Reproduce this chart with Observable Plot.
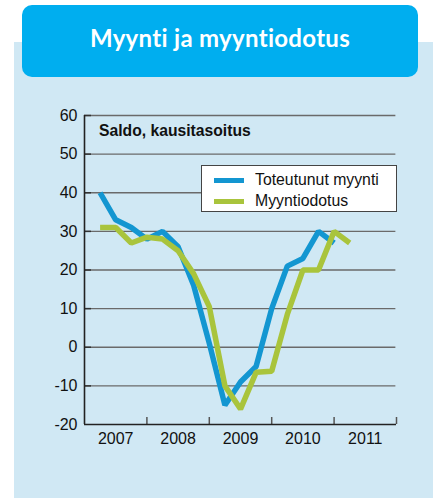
<!DOCTYPE html>
<html>
<head>
<meta charset="utf-8">
<script src="https://cdn.jsdelivr.net/npm/d3@7"></script>
<script src="https://cdn.jsdelivr.net/npm/@observablehq/plot@0.6"></script>
<style>
  html, body { margin: 0; padding: 0; background: #ffffff; }
  #wrap { position: relative; width: 433px; height: 498px; overflow: hidden; font-family: "Liberation Sans", Arial, sans-serif; }
  #panel { position: absolute; left: 14px; top: 42px; width: 419px; height: 456px; background: #d0e8f4; }
  #titlebox { position: absolute; left: 22px; top: 5px; width: 396px; height: 72px; background: #00aeef; border-radius: 10px;
    color: #fff; font-family: Lato, "Open Sans", sans-serif; font-weight: 700; font-size: 24px; text-align: center; line-height: 24px; }
  #titlebox span { position: absolute; left: 0; right: 0; top: 21px; letter-spacing: 0.3px; }
  #chart { position: absolute; left: 0; top: 0; }
  #subtitle { position: absolute; left: 99px; top: 122px; font-weight: bold; font-size: 15.7px; color: #111; }
  #legend { position: absolute; left: 201px; top: 165px; width: 194px; height: 45px; background: #fff; border: 1.5px solid #444; box-sizing: content-box; }
  .li { position: absolute; left: 0; height: 20px; font-size: 15.8px; color: #111; }
  .li i { position: absolute; left: 12px; top: 8px; width: 30px; height: 5px; }
  .li b { position: absolute; left: 53px; top: 1px; font-weight: normal; white-space: nowrap; }
</style>
</head>
<body>
<div id="wrap">
  <div id="panel"></div>
  <div id="titlebox"><span id="title"></span></div>
  <div id="chart"></div>
  <div id="subtitle"></div>
  <div id="legend"></div>
</div>
<script>
// ---- data ----
const titleText = "Myynti ja myyntiodotus";
const subtitleText = "Saldo, kausitasoitus";
const seriesNames = ["Toteutunut myynti", "Myyntiodotus"];
const seriesColors = ["#1396d1", "#a9c43c"];
const firstQuarterYear = 2007;            // first observation: 2007 Q1 (plotted at quarter end)
const toteutunutMyynti = [40, 33, 31, 28, 30, 26, 16, 1, -15, -9, -5, 10, 21, 23, 30, 27];
const myyntiodotus = [31, 31, 27, 28.5, 28, 25, 19, 10.5, -10, -16, -6.5, -6.2, 8.5, 20, 20, 30, 27];
const yTicks = [-20, -10, 0, 10, 20, 30, 40, 50, 60];
const yearLabels = ["2007", "2008", "2009", "2010", "2011"];

// ---- build table ----
const rows = [];
[toteutunutMyynti, myyntiodotus].forEach((vals, s) => {
  vals.forEach((v, i) => rows.push({ series: seriesNames[s], t: firstQuarterYear + (i + 1) / 4, value: v }));
});
const years = yearLabels.map(Number);
const xDomain = [years[0], years[years.length - 1] + 1];
const yDomain = [yTicks[0], yTicks[yTicks.length - 1]];
const yearBounds = years.map(y => y + 1);
const yearMids = years.map(y => y + 0.5);

const W = 433, H = 498;
const mL = 84, mR = 37, mT = 115, mB = 74;
const pxPerYear = (W - mL - mR) / (xDomain[1] - xDomain[0]);
const pxPerUnit = (H - mT - mB) / (yDomain[1] - yDomain[0]);
const tickLenX = 7 / pxPerYear, tickLenY = 7 / pxPerUnit;

const chart = Plot.plot({
  width: W, height: H,
  marginLeft: mL, marginRight: mR, marginTop: mT, marginBottom: mB,
  style: { background: "transparent", fontFamily: "Liberation Sans, Arial, sans-serif", fontSize: "16px", color: "#111" },
  x: { domain: xDomain },
  y: { domain: yDomain },
  marks: [
    // grid
    Plot.ruleY(yTicks.slice(1), { x1: xDomain[0], x2: xDomain[1] - 0.01, stroke: "#6a6a6a", strokeWidth: 1.3 }),
    Plot.ruleY(yTicks.slice(1), { x1: xDomain[0], x2: xDomain[0] + tickLenX, stroke: "#333", strokeWidth: 1.5 }),
    // x ticks (year boundaries), pointing up
    Plot.ruleX(yearBounds, { y1: yDomain[0], y2: yDomain[0] + tickLenY, stroke: "#555", strokeWidth: 1.5 }),
    // axes lines
    Plot.ruleY([yDomain[0]], { x1: xDomain[0], x2: xDomain[1], stroke: "#222", strokeWidth: 1.6 }),
    Plot.ruleX([xDomain[0]], { y1: yDomain[0], y2: yDomain[1], stroke: "#222", strokeWidth: 1.6 }),
    Plot.axisY(yTicks, { tickSize: 0, tickPadding: 7, label: null, fontSize: 16, tickFormat: d => String(d) }),
    Plot.axisX(yearMids, { tickSize: 0, tickPadding: 8, label: null, tickFormat: (d, i) => yearLabels[i], fontSize: 16 }),
    // series
    Plot.line(rows, { x: "t", y: "value", z: "series", stroke: d => seriesColors[seriesNames.indexOf(d.series)],
      strokeWidth: 5.5, strokeLinejoin: "miter", strokeLinecap: "butt" })
  ]
});
document.getElementById("chart").appendChild(chart);
document.getElementById("title").textContent = titleText;
document.getElementById("subtitle").textContent = subtitleText;
const legend = document.getElementById("legend");
seriesNames.forEach((name, i) => {
  const d = document.createElement("div");
  d.className = "li";
  d.style.top = (4 + i * 21) + "px";
  d.innerHTML = `<i style="background:${seriesColors[i]}"></i><b></b>`;
  d.querySelector("b").textContent = name;
  legend.appendChild(d);
});
</script>
</body>
</html>
